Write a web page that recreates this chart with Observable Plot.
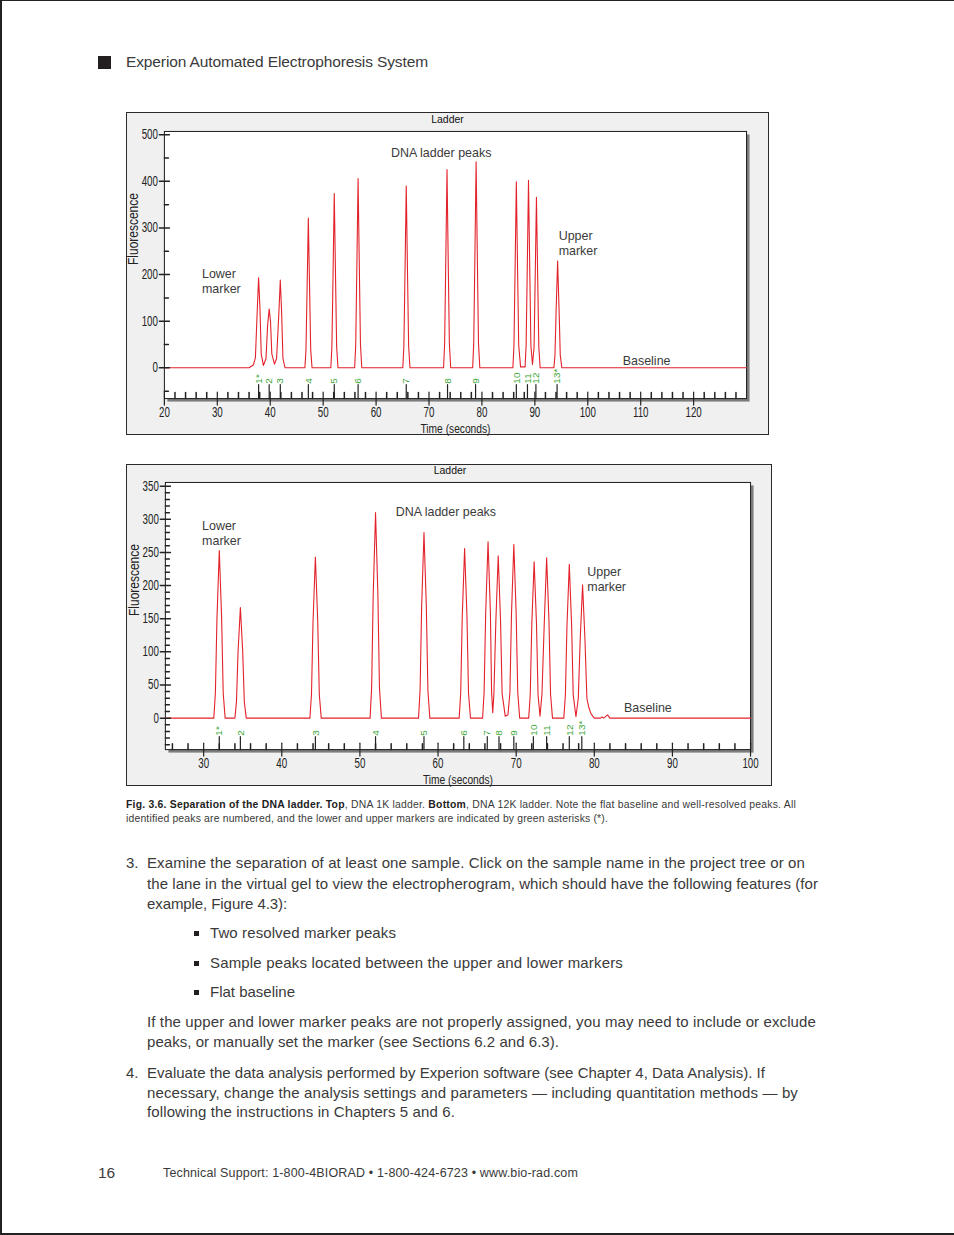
<!DOCTYPE html>
<html><head><meta charset="utf-8">
<script src="https://cdn.jsdelivr.net/npm/d3@7"></script>
<script src="https://cdn.jsdelivr.net/npm/@observablehq/plot@0.6"></script>
<style>
html,body{margin:0;padding:0;background:#fff;}
#page{position:relative;width:954px;height:1235px;overflow:hidden;font-family:"Liberation Sans",Arial,Helvetica,sans-serif;color:#3a3a3a;background:#fff;}
.t{position:absolute;white-space:nowrap;}
.panel{position:absolute;background:#f0f0f0;border:1px solid #2a2a2a;box-sizing:border-box;}
.panel svg{position:absolute;left:-1px;top:-1px;}
.sq{position:absolute;background:#231f20;}
</style></head>
<body><div id="page">
  <div style="position:absolute;left:0;top:0;width:954px;height:1px;background:#222"></div>
  <div style="position:absolute;left:0;top:0;width:2px;height:1235px;background:#222"></div>
  <div style="position:absolute;left:0;top:1233px;width:954px;height:2px;background:#222"></div>
  <div class="sq" style="left:98px;top:56px;width:13px;height:13px"></div>
  <div class="panel" id="p1" style="left:126px;top:112px;width:643px;height:323px"></div>
  <div class="panel" id="p2" style="left:126px;top:464px;width:646px;height:322px"></div>
</div>
<script>
// ---------- Top chart: DNA 1K ladder ----------
const topTime = [20,36.0,36.8,37.2,37.5,37.8,38.05,38.3,38.7,39.2,39.5,39.8,40.05,40.3,40.8,41.2,41.6,41.9,42.15,42.4,42.8,
  46.55,46.75,46.95,47.2,47.45,47.65,47.9,
  51.45,51.65,51.85,52.1,52.35,52.55,52.8,
  55.95,56.15,56.35,56.6,56.85,57.05,57.3,
  65.05,65.25,65.45,65.7,65.95,66.15,66.4,
  72.75,72.95,73.15,73.4,73.65,73.85,74.1,
  78.25,78.45,78.65,78.9,79.15,79.35,79.6,
  85.85,86.05,86.25,86.5,86.75,86.95,87.3,
  88.15,88.35,88.55,88.8,89.05,89.25,89.55,
  89.85,90.05,90.3,90.55,90.75,91.0,
  93.6,93.8,94.0,94.3,94.6,94.8,95.1,130];
const topFluor = [0,0,6,22,110,193,130,30,5,20,90,126,100,30,8,20,110,188,120,20,0,
  0,38,160,321,160,38,0,
  0,45,187,374,187,45,0,
  0,49,203,406,203,49,0,
  0,47,195,390,195,47,0,
  0,51,212,425,212,51,0,
  0,53,221,442,221,53,0,
  0,48,200,399,200,48,2,
  2,48,201,402,201,48,7,
  44,183,366,183,44,0,
  0,27,115,229,115,27,0,0];
const topPeakLabels = ["1*","2","3","4","5","6","7","8","9","10","11","12","13*"];
const topPeakTimes = [37.8,39.8,41.9,47.2,52.1,56.6,65.7,73.5,78.8,86.5,88.6,90.2,94.2];
const topXLabels = [20,30,40,50,60,70,80,90,100,110,120];
const topYLabels = [0,100,200,300,400,500];
const topYMinor = [-50,50,150,250,350,450];

// ---------- Bottom chart: DNA 12K ladder ----------
const botTime = [25.1,31.3,31.5,31.7,32.0,32.3,32.5,32.75,
  34.0,34.2,34.4,34.7,35.0,35.2,35.45,
  43.6,43.8,44.0,44.3,44.6,44.8,45.05,
  51.3,51.5,51.7,52.0,52.3,52.5,52.75,
  57.5,57.7,57.9,58.2,58.5,58.7,58.95,
  62.7,62.9,63.1,63.4,63.7,63.9,64.15,
  65.7,65.9,66.1,66.4,66.7,66.85,67.0,
  67.15,67.4,67.7,68.0,68.2,68.6,
  68.95,69.2,69.4,69.7,70.0,70.2,70.45,
  71.6,71.8,72.0,72.3,72.6,72.8,73.05,
  73.3,73.6,73.9,74.2,74.4,74.65,
  76.1,76.3,76.5,76.8,77.1,77.3,77.65,
  77.95,78.2,78.5,78.8,79.05,79.3,79.6,80.0,
  80.8,81.0,81.2,81.5,81.7,82.0,100];
const botFluor = [0,0,38,150,253,150,38,0,
  0,25,100,167,100,25,0,
  0,36,146,243,146,36,0,
  0,46,186,310,186,46,0,
  0,42,168,280,168,42,0,
  0,38,154,256,154,38,0,
  0,40,160,266,160,40,8,
  37,147,245,147,37,3,
  5,39,157,262,157,39,0,
  0,35,142,236,142,35,3,
  36,145,242,145,36,0,
  0,35,139,232,139,35,2,
  30,120,201,120,30,16,6,0,
  0,2,0,3,5,0,0];
const botPeakLabels = ["1*","2","3","4","5","6","7","8","9","10","11","12","13*"];
const botPeakTimes = [32.0,34.7,44.3,52.0,58.2,63.3,66.3,67.8,69.7,72.2,73.9,76.8,78.4];
const botXLabels = [30,40,50,60,70,80,90,100];
const botYLabels = [0,50,100,150,200,250,300,350];

const SANS = '"Liberation Sans",Arial,Helvetica,sans-serif';
const tickShape = {draw(c, l){ c.moveTo(0,0); c.lineTo(0,-l); }};

function drawChart(cfg){
  const trace = cfg.time.map((t,i)=>({t, f: cfg.fluor[i]}));
  const peaks = cfg.peakTimes.map((t,i)=>({t, label: cfg.peakLabels[i]}));
  const [x0] = cfg.xDomain, [y0] = cfg.yDomain;
  const ink = "#222";
  const svg = Plot.plot({
    width: cfg.width, height: cfg.height,
    marginLeft: cfg.m[0], marginTop: cfg.m[1], marginRight: cfg.m[2], marginBottom: cfg.m[3],
    x: {domain: cfg.xDomain, axis: null},
    y: {domain: cfg.yDomain, axis: null},
    style: {background: "transparent", overflow: "visible", fontFamily: SANS},
    marks: [
      Plot.frame({fill: "#7d7d7d", dx: 3, dy: 3}),
      Plot.frame({fill: "white", stroke: "#1a1a1a"}),
      Plot.line(trace, {x: "t", y: "f", stroke: "#e3232b", strokeWidth: 1.1}),
      Plot.vector(cfg.xMinor, {x: d=>d, y: y0, length: 6, rotate: 0, anchor: "start", shape: tickShape, stroke: ink}),
      Plot.vector(cfg.xLabels, {x: d=>d, y: y0, length: 13, rotate: 0, anchor: "middle", shape: tickShape, stroke: ink, strokeWidth: 1.2}),
      Plot.vector(cfg.yMinor, {x: x0, y: d=>d, length: 4, rotate: 90, anchor: "start", shape: tickShape, stroke: ink}),
      Plot.vector(cfg.yLabels, {x: x0, y: d=>d, length: 10, rotate: 90, anchor: "middle", shape: tickShape, stroke: ink}),
      Plot.vector(peaks, {x: "t", y: y0, length: cfg.peakTick, rotate: 0, anchor: "start", shape: tickShape, stroke: ink, strokeWidth: 1.2}),
      Plot.text(peaks, {x: "t", y: y0, dy: -cfg.peakTick - 1, text: "label", rotate: -90, textAnchor: "start", fill: "#3ea83a", fontSize: 10}),
      Plot.text(cfg.xLabels, {x: d=>d, y: y0, dy: 14, text: d=>String(d), fill: ink, fontSize: 14, ariaDescription: "s0.70"}),
      Plot.text(cfg.yLabels, {x: x0, y: d=>d, dx: -6.5, text: d=>String(d), textAnchor: "end", fill: ink, fontSize: 14, ariaDescription: "s0.70"}),
      Plot.text(["Time (seconds)"], {frameAnchor: "bottom", lineAnchor: "middle", dy: 30.5, text: d=>d, fill: ink, fontSize: 13.5, ariaDescription: "s0.76"}),
      Plot.text(["Ladder"], {frameAnchor: "top", lineAnchor: "middle", dx: -8, dy: -12, text: d=>d, fill: "#111", fontSize: 10.5}),
      Plot.text(["Fluorescence"], {frameAnchor: "left", dx: -31, rotate: -90, text: d=>d, fill: ink, fontSize: 14, ariaDescription: "s0.86"}),
      Plot.text(cfg.notes.filter(d => d.anchor === "middle"), {x: "x", y: "y", text: "text", textAnchor: "middle", lineHeight: 1.22, fill: "#3b3b3b", fontSize: 12.5}),
      Plot.text(cfg.notes.filter(d => d.anchor === "start"), {x: "x", y: "y", text: "text", textAnchor: "start", lineHeight: 1.22, fill: "#3b3b3b", fontSize: 12.5})
    ]
  });
  // condense the software-style axis labels
  svg.querySelectorAll("g[aria-description]").forEach(g => {
    const desc = g.getAttribute("aria-description");
    if (!desc || desc[0] !== "s") return;
    const s = +desc.slice(1);
    g.querySelectorAll("text").forEach(t => {
      const tr = t.getAttribute("transform") || "";
      t.setAttribute("transform", tr + ` scale(${s},1)`);
    });
  });
  return svg;
}

const chart1 = drawChart({
  time: topTime, fluor: topFluor, peakTimes: topPeakTimes, peakLabels: topPeakLabels,
  width: 643, height: 323, m: [38, 19, 21, 36],
  xDomain: [20, 130], yDomain: [-66, 507],
  xLabels: topXLabels, xMinor: d3.range(22, 130, 2).filter(d => d % 10 !== 0),
  yLabels: topYLabels, yMinor: topYMinor, peakTick: 14,
  notes: [
    {text: "DNA ladder peaks", x: 72.3, y: 462, anchor: "middle"},
    {text: "Lower\nmarker", x: 27.1, y: 187, anchor: "start"},
    {text: "Upper\nmarker", x: 94.5, y: 269, anchor: "start"},
    {text: "Baseline", x: 106.6, y: 17, anchor: "start"}
  ]
});
document.getElementById("p1").appendChild(chart1);

const chart2 = drawChart({
  time: botTime, fluor: botFluor, peakTimes: botPeakTimes, peakLabels: botPeakLabels,
  width: 646, height: 322, m: [39, 18, 20, 36],
  xDomain: [25.1, 100], yDomain: [-47.5, 355.6],
  xLabels: botXLabels, xMinor: d3.range(26, 100, 2).filter(d => d % 10 !== 0),
  yLabels: botYLabels, yMinor: d3.range(-40, 351, 10).filter(d => d % 50 !== 0), peakTick: 13,
  notes: [
    {text: "DNA ladder peaks", x: 61.0, y: 312, anchor: "middle"},
    {text: "Lower\nmarker", x: 29.8, y: 280, anchor: "start"},
    {text: "Upper\nmarker", x: 79.1, y: 210, anchor: "start"},
    {text: "Baseline", x: 83.8, y: 16, anchor: "start"}
  ]
});
document.getElementById("p2").appendChild(chart2);

// ---------- page text ----------
const page = document.getElementById("page");
function addText(html, x, yc, size, targetW, extra){
  const d = document.createElement("div");
  d.className = "t";
  d.innerHTML = html;
  d.style.left = x + "px";
  d.style.top = (yc - size / 2) + "px";
  d.style.fontSize = size + "px";
  d.style.lineHeight = size + "px";
  if (extra) Object.assign(d.style, extra);
  page.appendChild(d);
  if (targetW) {
    const w = d.getBoundingClientRect().width;
    const n = d.textContent.length;
    d.style.letterSpacing = ((targetW - w) / n) + "px";
  }
  return d;
}
function bullet(x, yc){
  const b = document.createElement("div");
  b.className = "sq";
  b.style.left = x + "px"; b.style.top = (yc - 2.5) + "px";
  b.style.width = "5px"; b.style.height = "5px";
  page.appendChild(b);
}
addText("Experion Automated Electrophoresis System", 126, 62, 15.5, 302);

addText('<b style="color:#222">Fig. 3.6. Separation of the DNA ladder. Top</b>, DNA 1K ladder. <b style="color:#222">Bottom</b>, DNA 12K ladder. Note the flat baseline and well-resolved peaks. All', 126, 805, 10.4, 670);
addText("identified peaks are numbered, and the lower and upper markers are indicated by green asterisks (*).", 126, 819, 10.4, 482);

const B = 15;
addText("3.", 126, 862, B);
addText("Examine the separation of at least one sample. Click on the sample name in the project tree or on", 147, 862, B, 658);
addText("the lane in the virtual gel to view the electropherogram, which should have the following features (for", 147, 883, B, 671);
addText("example, Figure 4.3):", 147, 903, B, 140);
bullet(194, 933); addText("Two resolved marker peaks", 210, 932, B, 186);
bullet(194, 963); addText("Sample peaks located between the upper and lower markers", 210, 962, B, 413);
bullet(194, 992); addText("Flat baseline", 210, 991, B, 85);
addText("If the upper and lower marker peaks are not properly assigned, you may need to include or exclude", 147, 1021, B, 669);
addText("peaks, or manually set the marker (see Sections 6.2 and 6.3).", 147, 1041, B, 412);
addText("4.", 126, 1072, B);
addText("Evaluate the data analysis performed by Experion software (see Chapter 4, Data Analysis). If", 147, 1072, B, 618);
addText("necessary, change the analysis settings and parameters \u2014 including quantitation methods \u2014 by", 147, 1092, B, 651);
addText("following the instructions in Chapters 5 and 6.", 147, 1111, B, 308);

addText("16", 98, 1173, 15.5);
addText("Technical Support: 1-800-4BIORAD \u2022 1-800-424-6723 \u2022 www.bio-rad.com", 163, 1173, 12.5, 415);
</script>
</body></html>
